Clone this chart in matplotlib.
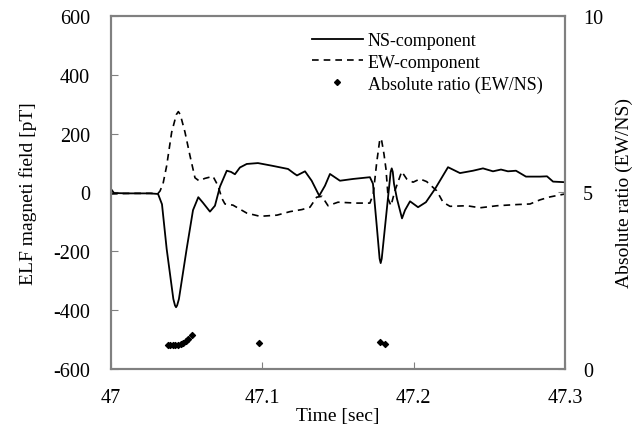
import matplotlib
matplotlib.use('Agg')
import matplotlib.pyplot as plt
from matplotlib.lines import Line2D

plt.rcParams['font.family'] = ['Liberation Serif', 'DejaVu Serif']
plt.rcParams['axes.unicode_minus'] = False

# NS-component (solid)
ns_t = [47.0000, 47.0020, 47.0126, 47.0258, 47.0311, 47.0337, 47.0368, 47.0412,
        47.0423, 47.0430, 47.0437, 47.0449, 47.0500, 47.0542, 47.0577, 47.0608,
        47.0654, 47.0687, 47.0720, 47.0765, 47.0793, 47.0819, 47.0852, 47.0897,
        47.0971, 47.1064, 47.1170, 47.1209, 47.1229, 47.1282, 47.1326, 47.1376,
        47.1414, 47.1447, 47.1513, 47.1599, 47.1711, 47.1731, 47.1756, 47.1775,
        47.1782, 47.1789, 47.1804, 47.1830, 47.1848, 47.1855, 47.1862, 47.1870,
        47.1890, 47.1923, 47.1943, 47.1976, 47.2029, 47.2081, 47.2141, 47.2227,
        47.2306, 47.2392, 47.2458, 47.2524, 47.2577, 47.2623, 47.2676, 47.2742,
        47.2835, 47.2881, 47.2921, 47.3000]
ns_v = [12, -2, -3, -3, -5, -40, -192, -362,
        -384, -390, -384, -362, -192, -60, -16, -35,
        -65, -45, 20, 74, 70, 62, 85, 97,
        100, 91, 80, 65, 58, 72, 40, -11,
        23, 63, 40, 46, 52, 30, -113, -225,
        -240, -225, -150, -20, 70, 82, 70, 30,
        -22, -88, -60, -30, -50, -33, 12, 86,
        66, 74, 82, 72, 78, 72, 74, 54,
        54, 55, 37, 35]

# EW-component (dashed)
ew_t = [47.0000, 47.0126, 47.0311, 47.0324, 47.0344, 47.0368, 47.0401, 47.0432,
        47.0445, 47.0458, 47.0489, 47.0522, 47.0555, 47.0581, 47.0621, 47.0674,
        47.0707, 47.0733, 47.0753, 47.0806, 47.0897, 47.0985, 47.1097, 47.1183,
        47.1262, 47.1315, 47.1359, 47.1394, 47.1434, 47.1500, 47.1619, 47.1711,
        47.1733, 47.1756, 47.1775, 47.1782, 47.1789, 47.1804, 47.1817, 47.1832,
        47.1850, 47.1876, 47.1921, 47.1954, 47.1996, 47.2042, 47.2086, 47.2152,
        47.2194, 47.2240, 47.2352, 47.2438, 47.2551, 47.2683, 47.2769, 47.2835,
        47.2901, 47.3000]
ew_v = [-5, -3, -3, 5, 30, 91, 205, 265,
        275, 265, 205, 125, 50, 40, 48, 55,
        23, -20, -39, -43, -70, -81, -77, -65,
        -58, -50, -16, -13, -45, -33, -36, -36,
        -5, 103, 175, 184, 175, 130, 80, -22,
        -45, 6, 71, 46, 35, 46, 37, 6,
        -33, -47, -45, -52, -45, -41, -39, -25,
        -15, -5]

# absolute ratio EW/NS
ratio_t = [47.0375, 47.0390, 47.0408, 47.0425, 47.0443, 47.0461, 47.0478,
           47.0496, 47.0511, 47.0533, 47.0978, 47.1778, 47.1811]
ratio_v = [0.69, 0.68, 0.67, 0.67, 0.68, 0.70, 0.74,
           0.79, 0.85, 0.96, 0.74, 0.76, 0.71]

fig = plt.figure(figsize=(6.43, 4.27), dpi=100)
ax = fig.add_axes([0.1726, 0.1335, 0.7061, 0.8267])
ax2 = ax.twinx()

ax.plot(ns_t, ns_v, color='black', lw=1.3)
ax.plot(ew_t, ew_v, color='black', lw=1.2, dashes=(4, 3))
ax2.scatter(ratio_t, ratio_v, marker='D', s=9, color='black', zorder=3)

ax.set_xlim(47, 47.3)
ax.set_ylim(-600, 600)
ax2.set_ylim(0, 10)
ax.set_xticks([47, 47.1, 47.2, 47.3])
ax.set_xticklabels(['47', '47.1', '47.2', '47.3'])
ax.set_yticks(range(-600, 601, 200))
ax2.set_yticks([0, 5, 10])

for a in (ax, ax2):
    for s in a.spines.values():
        s.set_color('#808080')
        s.set_linewidth(1.5)
ax.tick_params(axis='y', direction='in', length=5, color='#808080', pad=15, labelsize=14.5)
ax.tick_params(axis='x', direction='in', length=5, color='#808080', pad=14, labelsize=14.5)
ax2.tick_params(direction='in', length=5, color='#808080', pad=13, labelsize=14.5)

ax.set_xlabel('Time [sec]', labelpad=0, fontsize=14)
ax.set_ylabel('ELF magneti field [pT]', labelpad=12, fontsize=14)
ax2.set_ylabel('Absolute ratio (EW/NS)', labelpad=9, fontsize=14)

handles = [Line2D([], [], color='black', lw=1.3),
           Line2D([], [], color='black', lw=1.2, dashes=(4, 3)),
           Line2D([], [], color='black', marker='D', ms=3, ls='none')]
ax2.legend(handles, ['NS-component', 'EW-component', 'Absolute ratio (EW/NS)'],
           loc='upper left', bbox_to_anchor=(0.407, 1.0), frameon=False,
           handlelength=2.8, handletextpad=0.3, labelspacing=0.25, fontsize=13)

fig.savefig('out.png', dpi=100)
